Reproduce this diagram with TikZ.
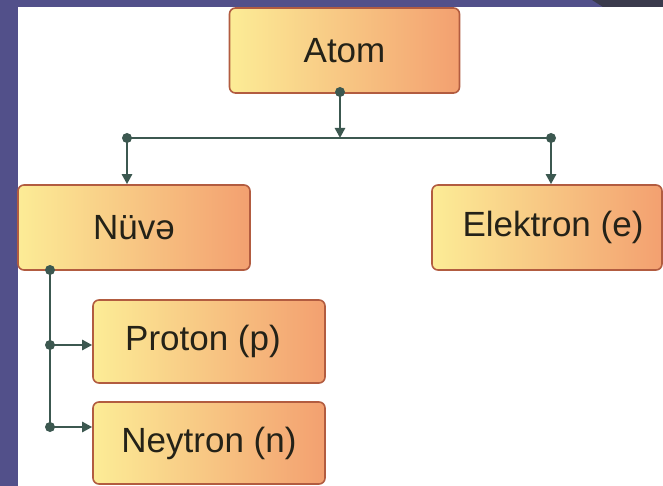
\documentclass[tikz,border=0pt]{standalone}
\usepackage{fontspec}
\setmainfont{Liberation Sans}
\usetikzlibrary{arrows.meta}
\definecolor{bgpurple}{RGB}{82,80,138}
\definecolor{bgdark}{RGB}{58,58,76}
\definecolor{boxborder}{RGB}{178,92,64}
\definecolor{boxleft}{RGB}{252,236,150}
\definecolor{boxright}{RGB}{243,160,112}
\definecolor{conncol}{RGB}{60,88,80}
\definecolor{txtcol}{RGB}{36,34,24}
\tikzset{
  box/.style={draw=boxborder, line width=1.6pt, rounded corners=6pt,
    left color=boxleft, right color=boxright, text=txtcol,
    font=\fontsize{35}{40}\selectfont, inner sep=0pt, anchor=center},
  conn/.style={draw=conncol, line width=2.8pt},
  arr/.style={conn, -{Triangle[length=10pt,width=10pt]}},
  dot/.style={circle, fill=conncol, inner sep=0pt, minimum size=10pt}
}
\begin{document}
\begin{tikzpicture}[x=1pt,y=-1pt]
\useasboundingbox (0,0) rectangle (663,486);
% background
\fill[bgpurple] (0,0) rectangle (663,486);
\fill[white] (18,7) rectangle (663,486);
\fill[bgdark] (592,0) -- (663,0) -- (663,7) -- (603,7) -- cycle;
% boxes
\node[box, minimum width=230pt, minimum height=85pt] (atom) at (344.5,50.5) {Atom};
\node[box, minimum width=232pt, minimum height=85pt] (nuve) at (134,227.5) {Nüvə};
\node[box, minimum width=230pt, minimum height=85pt] (elek) at (547,227.5) {\hspace*{12pt}Elektron (e)};
\node[box, minimum width=232pt, minimum height=83pt] (proton) at (209,341.5) {Proton (p)\hspace*{12pt}};
\node[box, minimum width=232pt, minimum height=82pt] (neytron) at (209,443) {Neytron (n)};
% junction coordinates
\coordinate (a0) at (340,92);
\coordinate (j0) at (340,138);
\coordinate (jl) at (127,138);
\coordinate (jr) at (551,138);
\coordinate (n0) at (50,270);
\coordinate (np) at (50,345);
\coordinate (nn) at (50,427);
% connectors
\draw[conn] (jl) -- (jr);
\draw[arr] (a0) -- (j0);
\draw[arr] (jl) -- (jl |- nuve.north);
\draw[arr] (jr) -- (jr |- elek.north);
\draw[conn] (n0) -- (nn);
\draw[arr] (np) -- (np -| proton.west);
\draw[arr] (nn) -- (nn -| neytron.west);
% dots
\node[dot] (d0) at (a0) {};
\node[dot] (d1) at (jl) {};
\node[dot] (d2) at (jr) {};
\node[dot] (d3) at (n0) {};
\node[dot] (d4) at (np) {};
\node[dot] (d5) at (nn) {};
\end{tikzpicture}
\end{document}
